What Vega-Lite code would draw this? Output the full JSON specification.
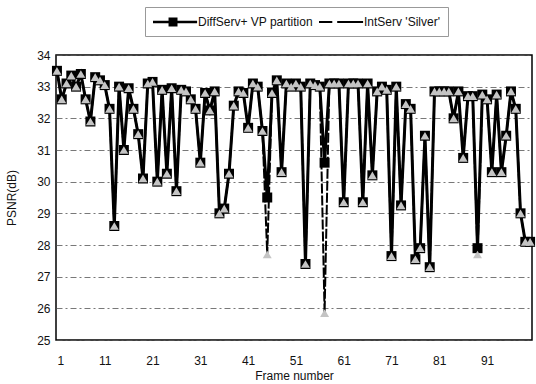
{
  "$schema": "https://vega.github.io/schema/vega-lite/v6.json",
  "width": 476,
  "height": 285,
  "autosize": {"type": "none"},
  "padding": {"left": 56, "top": 55, "right": 4, "bottom": 44},
  "background": "white",
  "config": {
    "font": "Liberation Sans",
    "view": {"stroke": "black", "strokeWidth": 1.5}
  },
  "data": {"values": [
    {"frame":1,"ds":33.5,"is":33.5},{"frame":2,"ds":32.6,"is":32.6},{"frame":3,"ds":33.1,"is":33.1},{"frame":4,"ds":33.35,"is":33.35},{"frame":5,"ds":33.0,"is":33.0},
    {"frame":6,"ds":33.4,"is":33.4},{"frame":7,"ds":32.6,"is":32.6},{"frame":8,"ds":31.9,"is":31.9},{"frame":9,"ds":33.3,"is":33.3},{"frame":10,"ds":33.2,"is":33.2},
    {"frame":11,"ds":33.05,"is":33.05},{"frame":12,"ds":32.3,"is":32.3},{"frame":13,"ds":28.6,"is":28.6},{"frame":14,"ds":33.0,"is":33.0},{"frame":15,"ds":31.0,"is":31.0},
    {"frame":16,"ds":32.95,"is":32.95},{"frame":17,"ds":32.3,"is":32.3},{"frame":18,"ds":31.5,"is":31.5},{"frame":19,"ds":30.1,"is":30.1},{"frame":20,"ds":33.1,"is":33.1},
    {"frame":21,"ds":33.15,"is":33.15},{"frame":22,"ds":30.0,"is":30.0},{"frame":23,"ds":32.9,"is":32.9},{"frame":24,"ds":30.25,"is":30.25},{"frame":25,"ds":32.95,"is":32.95},
    {"frame":26,"ds":29.7,"is":29.7},{"frame":27,"ds":32.9,"is":32.9},{"frame":28,"ds":32.85,"is":32.85},{"frame":29,"ds":32.6,"is":32.6},{"frame":30,"ds":32.3,"is":32.3},
    {"frame":31,"ds":30.6,"is":30.6},{"frame":32,"ds":32.8,"is":32.8},{"frame":33,"ds":32.25,"is":32.25},{"frame":34,"ds":32.85,"is":32.85},{"frame":35,"ds":29.0,"is":29.0},
    {"frame":36,"ds":29.15,"is":29.15},{"frame":37,"ds":30.25,"is":30.25},{"frame":38,"ds":32.4,"is":32.4},{"frame":39,"ds":32.85,"is":32.85},{"frame":40,"ds":32.8,"is":32.8},
    {"frame":41,"ds":31.7,"is":31.7},{"frame":42,"ds":33.1,"is":33.1},{"frame":43,"ds":33.0,"is":33.0},{"frame":44,"ds":31.6,"is":31.6},{"frame":45,"ds":29.5,"is":27.7},
    {"frame":46,"ds":32.8,"is":32.8},{"frame":47,"ds":33.2,"is":33.2},{"frame":48,"ds":30.3,"is":30.3},{"frame":49,"ds":33.1,"is":33.1},{"frame":50,"ds":33.0,"is":33.0},
    {"frame":51,"ds":33.1,"is":33.1},{"frame":52,"ds":33.0,"is":33.0},{"frame":53,"ds":27.4,"is":27.4},{"frame":54,"ds":33.1,"is":33.1},{"frame":55,"ds":33.05,"is":33.05},
    {"frame":56,"ds":33.0,"is":33.0},{"frame":57,"ds":30.6,"is":25.85},{"frame":58,"ds":33.1,"is":33.1},{"frame":59,"ds":33.1,"is":33.1},{"frame":60,"ds":33.1,"is":33.1},
    {"frame":61,"ds":29.35,"is":29.35},{"frame":62,"ds":33.1,"is":33.1},{"frame":63,"ds":33.1,"is":33.1},{"frame":64,"ds":33.1,"is":33.1},{"frame":65,"ds":29.35,"is":29.35},
    {"frame":66,"ds":33.1,"is":33.1},{"frame":67,"ds":30.2,"is":30.2},{"frame":68,"ds":32.85,"is":32.85},{"frame":69,"ds":33.0,"is":33.0},{"frame":70,"ds":32.9,"is":32.9},
    {"frame":71,"ds":27.65,"is":27.65},{"frame":72,"ds":33.0,"is":33.0},{"frame":73,"ds":29.25,"is":29.25},{"frame":74,"ds":32.45,"is":32.45},{"frame":75,"ds":32.3,"is":32.3},
    {"frame":76,"ds":27.55,"is":27.55},{"frame":77,"ds":27.9,"is":27.9},{"frame":78,"ds":31.45,"is":31.45},{"frame":79,"ds":27.3,"is":27.3},{"frame":80,"ds":32.85,"is":32.85},
    {"frame":81,"ds":32.85,"is":32.85},{"frame":82,"ds":32.85,"is":32.85},{"frame":83,"ds":32.85,"is":32.85},{"frame":84,"ds":32.0,"is":32.0},{"frame":85,"ds":32.85,"is":32.85},
    {"frame":86,"ds":30.75,"is":30.75},{"frame":87,"ds":32.7,"is":32.7},{"frame":88,"ds":32.7,"is":32.7},{"frame":89,"ds":27.9,"is":27.7},{"frame":90,"ds":32.75,"is":32.75},
    {"frame":91,"ds":32.6,"is":32.6},{"frame":92,"ds":30.3,"is":30.3},{"frame":93,"ds":32.75,"is":32.75},{"frame":94,"ds":30.3,"is":30.3},{"frame":95,"ds":31.45,"is":31.45},
    {"frame":96,"ds":32.85,"is":32.85},{"frame":97,"ds":32.3,"is":32.3},{"frame":98,"ds":29.0,"is":29.0},{"frame":99,"ds":28.1,"is":28.1},{"frame":100,"ds":28.1,"is":28.1}
  ]},
  "transform": [{"fold": ["ds", "is"], "as": ["series", "psnr"]}],
  "encoding": {
    "x": {
      "field": "frame", "type": "quantitative",
      "scale": {"domain": [0.8, 100.4], "nice": false, "zero": false},
      "axis": {
        "values": [1, 11, 21, 31, 41, 51, 61, 71, 81, 91],
        "grid": false, "ticks": false, "domain": false,
        "labelPadding": 15, "labelFontSize": 12, "labelColor": "#111",
        "title": "Frame number", "titleFontSize": 12, "titleFontWeight": "normal",
        "titleColor": "#111", "titlePadding": 4
      }
    },
    "y": {
      "field": "psnr", "type": "quantitative",
      "scale": {"domain": [25, 34], "nice": false, "zero": false},
      "axis": {
        "values": [25, 26, 27, 28, 29, 30, 31, 32, 33, 34],
        "grid": true, "gridColor": "#555", "gridDash": [6, 3, 2, 3], "gridWidth": 0.8,
        "ticks": false, "domain": false,
        "labelPadding": 6, "labelFontSize": 12, "labelColor": "#111",
        "title": "PSNR(dB)", "titleFontSize": 12, "titleFontWeight": "normal",
        "titleColor": "#111", "titlePadding": 18
      }
    }
  },
  "layer": [
    {
      "transform": [{"filter": "datum.series == 'ds'"}],
      "mark": {"type": "line", "color": "black", "strokeWidth": 3}
    },
    {
      "transform": [{"filter": "datum.series == 'is'"}],
      "mark": {"type": "line", "color": "black", "strokeWidth": 2, "strokeDash": [10, 2]}
    },
    {
      "transform": [{"filter": "datum.series == 'ds'"}],
      "mark": {"type": "point", "shape": "square", "filled": true, "color": "black", "size": 100, "opacity": 1}
    },
    {
      "transform": [{"filter": "datum.series == 'is'"}],
      "mark": {"type": "point", "shape": "triangle-up", "filled": true, "color": "#c4c4c4", "size": 80, "opacity": 1}
    },
    {
      "mark": {"type": "point", "filled": true, "color": "black", "opacity": 0},
      "encoding": {
        "shape": {
          "field": "series", "type": "nominal",
          "scale": {"domain": ["ds", "is"], "range": [
            "M-1,-0.18H5.3V0.18H-1Z M1.22,-0.64H2.5V0.64H1.22Z",
            "M-1,-0.14H0.9V0.14H-1Z M1.6,-0.14H5.3V0.14H1.6Z"
          ]},
          "legend": {
            "orient": "none", "legendX": 89, "legendY": -48,
            "direction": "horizontal", "columns": 2, "title": null,
            "symbolSize": 196, "symbolStrokeWidth": 0, "symbolFillColor": "black", "symbolOpacity": 1,
            "labelExpr": "datum.label == 'ds' ? 'DiffServ+ VP partition' : \"IntServ 'Silver'\"",
            "labelFontSize": 12, "labelColor": "#111", "labelOffset": 31,
            "columnPadding": 6, "padding": 8,
            "strokeColor": "#999"
          }
        }
      }
    }
  ]
}
